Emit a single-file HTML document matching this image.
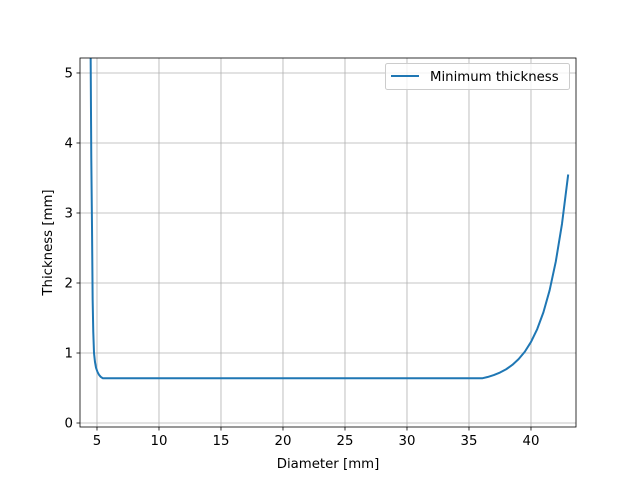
<!DOCTYPE html>
<html><head><meta charset="utf-8"><style>
body{margin:0;background:#fff;}
svg text{font-family:"DejaVu Sans","Liberation Sans",sans-serif;font-size:13.3px;fill:#000;}
</style></head><body>
<svg id="chart" width="640" height="480"></svg>
<script>
const diameters=[4.45,4.49,4.54,4.6,4.65,4.7,4.76,4.84,4.92,5.04,5.16,5.3,5.46,10,20,30,36.1,36.5,37,37.5,38,38.5,39,39.5,40,40.5,41,41.5,42,42.5,43];
const thickness=[5.5,5.21,3.79,2.76,1.76,1.3,1.0,0.87,0.79,0.73,0.69,0.66,0.64,0.64,0.64,0.64,0.64,0.657,0.685,0.721,0.768,0.831,0.912,1.018,1.158,1.341,1.58,1.894,2.306,2.844,3.55];
const xTicks=[5,10,15,20,25,30,35,40];
const yTicks=[0,1,2,3,4,5];
const L=80,R=576,T=58,B=427;
const xmin=3.63,xmax=43.63,ymin=-0.057,ymax=5.214;
const sx=v=>L+(v-xmin)/(xmax-xmin)*(R-L);
const sy=v=>B-(v-ymin)/(ymax-ymin)*(B-T);
const NS="http://www.w3.org/2000/svg";
const svg=document.getElementById('chart');
function mk(t,a,p){const e=document.createElementNS(NS,t);for(const k in a)e.setAttribute(k,a[k]);(p||svg).appendChild(e);return e;}
const defs=mk('defs',{});const cp=mk('clipPath',{id:'c'},defs);mk('rect',{x:L,y:T,width:R-L,height:B-T},cp);
xTicks.forEach(v=>{const x=sx(v);
 const g=mk('line',{x1:x,x2:x,y1:T,y2:B,stroke:'#b0b0b0','stroke-width':0.8});
 
 mk('line',{x1:x,x2:x,y1:B,y2:B+3.5,stroke:'#000','stroke-width':0.8});
 const t=mk('text',{x:x,y:B+18,'text-anchor':'middle'});t.textContent=v;
 });
yTicks.forEach(v=>{const y=sy(v);
 const g=mk('line',{x1:L,x2:R,y1:y,y2:y,stroke:'#b0b0b0','stroke-width':0.8});
 
 mk('line',{x1:L-3.5,x2:L,y1:y,y2:y,stroke:'#000','stroke-width':0.8});
 const t=mk('text',{x:L-7,y:y+4.5,'text-anchor':'end'});t.textContent=v;
 });
const d=diameters.map((v,i)=>(i?'L':'M')+sx(v).toFixed(2)+','+sy(thickness[i]).toFixed(2)).join('');
const line=mk('path',{d:d,fill:'none',stroke:'#1f77b4','stroke-width':2,'clip-path':'url(#c)','stroke-linejoin':'round'});


const fr=mk('rect',{x:L,y:T,width:R-L,height:B-T,fill:'none',stroke:'#000','stroke-width':0.8});

const xl=mk('text',{x:(L+R)/2,y:468,'text-anchor':'middle'});xl.textContent='Diameter [mm]';

const yl=mk('text',{x:0,y:0,'text-anchor':'middle',transform:`translate(52,${(T+B)/2}) rotate(-90)`});yl.textContent='Thickness [mm]';

const lg=mk('g',{});

mk('rect',{x:385.5,y:63.5,width:184,height:26,rx:2,fill:'#fff','fill-opacity':0.8,stroke:'#ccc'},lg);
mk('line',{x1:391,x2:419,y1:76,y2:76,stroke:'#1f77b4','stroke-width':2},lg);
const lt=mk('text',{x:430,y:81},lg);lt.textContent='Minimum thickness';

</script>
</body></html>
